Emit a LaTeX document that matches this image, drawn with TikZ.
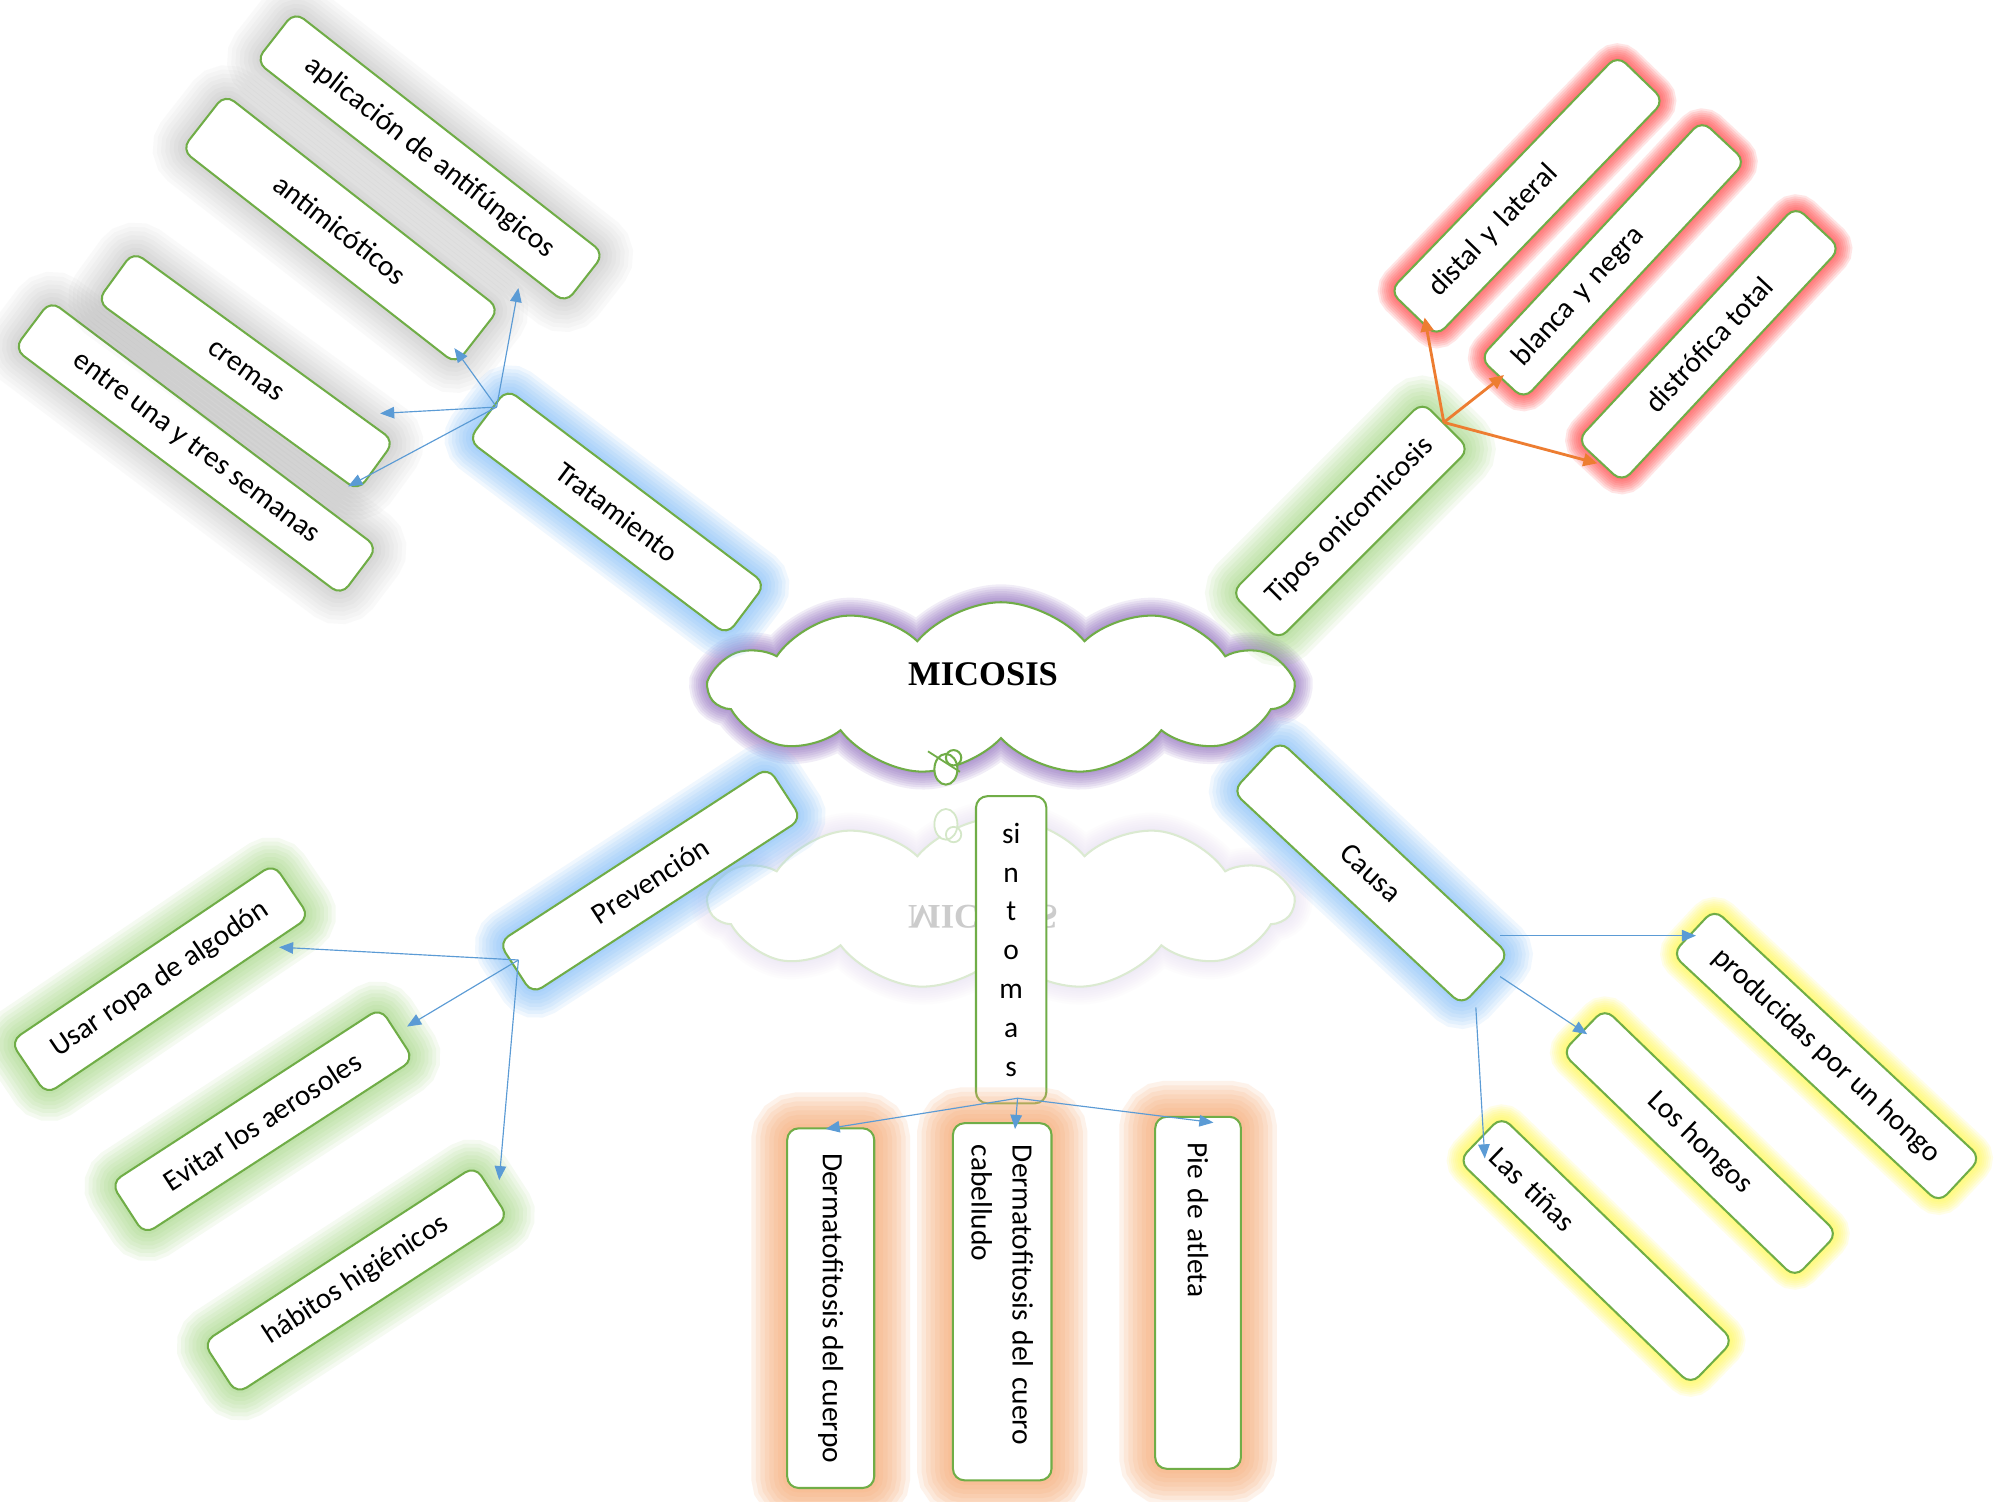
\documentclass[tikz,border=0pt]{standalone}
\usepackage{fontspec}
\setmainfont{Carlito}
\newfontfamily\titlefont{Liberation Serif}
\usetikzlibrary{arrows.meta,shapes.symbols,calc}
\definecolor{boxgreen}{RGB}{112,173,71}
\definecolor{arrblue}{RGB}{91,155,213}
\definecolor{arrorange}{RGB}{237,125,49}
\definecolor{gblue}{RGB}{120,185,250}
\definecolor{ggreen}{RGB}{140,205,100}
\definecolor{gred}{RGB}{255,60,60}
\definecolor{gyellow}{RGB}{255,250,60}
\definecolor{gorange}{RGB}{248,170,115}
\definecolor{ggray}{RGB}{110,110,110}
\definecolor{gpurple}{RGB}{125,85,180}
\tikzset{
  halo/.style n args={3}{
    preaction={draw=#1, draw opacity=#3, line width={2.00*#2}},
    preaction={draw=#1, draw opacity=#3, line width={1.75*#2}},
    preaction={draw=#1, draw opacity=#3, line width={1.50*#2}},
    preaction={draw=#1, draw opacity=#3, line width={1.25*#2}},
    preaction={draw=#1, draw opacity=#3, line width={1.00*#2}},
    preaction={draw=#1, draw opacity=#3, line width={0.75*#2}},
    preaction={draw=#1, draw opacity=#3, line width={0.50*#2}},
    preaction={draw=#1, draw opacity=#3, line width={0.25*#2}}},
  boxst/.style={draw=boxgreen, line width=1.6pt, fill=white, rounded corners=9pt,
    inner sep=0pt, align=center, font=\fontsize{23}{28}\selectfont},
  cloudst/.style={cloud, cloud puffs=11, cloud puff arc=100, aspect=3.4,
    line width=1.6pt, fill=white, minimum width=455pt, minimum height=135pt, inner sep=0pt},
  barrow/.style={draw=arrblue, line width=0.9pt, -{Triangle[length=11pt,width=9pt]}},
  oarrow/.style={draw=arrorange, line width=2.2pt, -{Triangle[length=11pt,width=10pt]}},
}
\begin{document}
\begin{tikzpicture}[x=1pt,y=-1pt]
\useasboundingbox (0,0) rectangle (1568,1173);
\fill[white] (0,0) rectangle (1568,1173);

% reflection of the cloud
\node[cloudst, draw=boxgreen!25, halo={gpurple!40}{14}{.035}] (clr) at (782,706) {};
\draw[boxgreen!30, line width=1.4pt, fill=white] (739,644) ellipse (9 and 12);
\draw[boxgreen!30, line width=1.4pt] (745,652) circle (6);
\begin{scope}[shift={(768,716)}, yscale=-1]
  \node[transform shape, text=black!20, font=\titlefont\bfseries\fontsize{27}{30}\selectfont] (mir) at (0,0) {MICOSIS};
\end{scope}

% main cloud
\node[cloudst, draw=boxgreen, halo={gpurple}{14}{.10}] (cl) at (782,538) {};
\draw[boxgreen, line width=1.6pt, fill=white] (739,601) ellipse (9 and 12);
\draw[boxgreen, line width=1.6pt] (745,592) circle (6);
\draw[boxgreen, line width=1.4pt] (725,587) -- (750,603);
\node[font=\titlefont\bfseries\fontsize{27}{30}\selectfont] (mi) at (768,527) {MICOSIS};

% Tratamiento group (gray shadow)
\node[boxst, halo={ggray}{26}{.035}, minimum width=320pt, minimum height=47pt, rotate=-37] (en) at (153,350) {entre una y tres semanas};
\node[boxst, halo={ggray}{26}{.035}, minimum width=252pt, minimum height=48pt, rotate=-36] (cr) at (192,290) {cremas};
\node[boxst, halo={ggray}{26}{.035}, minimum width=272pt, minimum height=55pt, rotate=-38] (am) at (266,179) {antimicóticos};
\node[boxst, halo={ggray}{26}{.035}, minimum width=307pt, minimum height=49pt, rotate=-38] (ap) at (336,123) {aplicación de antifúngicos};
\node[boxst, halo={gblue}{22}{.11}, minimum width=253pt, minimum height=50pt, rotate=-37] (tr) at (482,400) {Tratamiento};

% Tipos onicomicosis group
\node[boxst, halo={ggreen}{24}{.085}, minimum width=211pt, minimum height=52pt, rotate=45] (tp) at (1055,407) {Tipos onicomicosis};
\node[boxst, halo={gred}{13}{.13}, minimum width=256pt, minimum height=51pt, rotate=46,
  text width=210pt, inner xsep=23pt, align=left] (di) at (1193,153) {distal y lateral};
\node[boxst, halo={gred}{13}{.13}, minimum width=254pt, minimum height=47pt, rotate=47,
  text width=218pt, inner xsep=18pt, align=left] (bl) at (1260,203) {blanca y negra};
\node[boxst, halo={gred}{13}{.13}, minimum width=250pt, minimum height=48pt, rotate=47] (ds) at (1335,269) {distrófica total};

% Prevención group
\node[boxst, halo={gblue}{22}{.11}, minimum width=251pt, minimum height=48pt, rotate=33] (pv) at (508,688) {Prevención};
\node[boxst, halo={ggreen}{24}{.085}, minimum width=248pt, minimum height=50pt, rotate=34] (us) at (125,765) {Usar ropa de algodón};
\node[boxst, halo={ggreen}{24}{.085}, minimum width=251pt, minimum height=48pt, rotate=33] (ev) at (205,876) {Evitar los aerosoles};
\node[boxst, halo={ggreen}{24}{.085}, minimum width=253pt, minimum height=48pt, rotate=33] (hb) at (278,1000) {hábitos higiénicos};

% síntomas group
\node[boxst, minimum width=55pt, minimum height=240pt, font=\fontsize{23}{30.3}\selectfont] (si) at (790,742) {si\\n\\t\\o\\m\\a\\s};
\node[boxst, halo={gorange}{28}{.15}, minimum width=281pt, minimum height=68pt, rotate=-90] (dc) at (649,1022) {Dermatofitosis del cuerpo};
\node[boxst, halo={gorange}{28}{.15}, minimum width=279pt, minimum height=77pt, rotate=-90,
  text width=245pt, inner xsep=17pt, align=left, font=\fontsize{23}{32}\selectfont] (dh) at (783,1017) {Dermatofitosis del cuero\\cabelludo};
\node[boxst, halo={gorange}{28}{.15}, minimum width=275pt, minimum height=67pt, rotate=-90,
  text width=235pt, inner xsep=20pt, align=left] (pa) at (936,1010) {Pie de atleta};

% Causa group
\node[boxst, halo={gblue}{22}{.11}, minimum width=245pt, minimum height=54pt, rotate=-43] (ca) at (1071,682) {Causa};
\node[boxst, halo={gyellow}{13}{.12}, minimum width=285pt, minimum height=48pt, rotate=-43] (ph) at (1427,825) {producidas por un hongo};
\node[boxst, halo={gyellow}{13}{.12}, minimum width=253pt, minimum height=48pt, rotate=-44] (lh) at (1328,893) {Los hongos};
\node[boxst, halo={gyellow}{13}{.12}, minimum width=252pt, minimum height=48pt, rotate=-44,
  text width=220pt, inner xsep=16pt, align=left] (lt) at (1247,977) {Las tiñas};

% hubs
\coordinate (trh) at ($(tr)+(-94,-82)$);
\coordinate (tph) at ($(tp)+(73,-77)$);
\coordinate (pvh) at ($(pv)+(-103,62)$);
\coordinate (sih) at ($(si)+(5,116)$);

% connectors
\draw[barrow] (trh) -- ($(ap)+(69,102)$);
\draw[barrow] (trh) -- ($(am)+(89,93)$);
\draw[barrow] (trh) -- ($(cr)+(105,33)$);
\draw[barrow] (trh) -- ($(en)+(119,30)$);

\draw[oarrow] (tph) -- ($(di)+(-80,95)$);
\draw[oarrow] (tph) -- ($(bl)+(-85,90)$);
\draw[oarrow] (tph) -- ($(ds)+(-87,93)$);

\draw[barrow] (pvh) -- ($(us)+(93,-25)$);
\draw[barrow] (pvh) -- ($(ev)+(113,-74)$);
\draw[barrow] (pvh) -- ($(hb)+(112,-78)$);

\draw[barrow] (sih) -- ($(dc)+(-4,-140)$);
\draw[barrow] (sih) -- ($(dh)+(10,-135)$);
\draw[barrow] (sih) -- ($(pa)+(12,-133)$);

\draw[barrow] ($(ca)+(101,49)$) -- ($(ph)+(-102,-94)$);
\draw[barrow] ($(ca)+(101,81)$) -- ($(lh)+(-88,-85)$);
\draw[barrow] ($(ca)+(82,105)$) -- ($(lt)+(-87,-72)$);
\end{tikzpicture}
\end{document}
